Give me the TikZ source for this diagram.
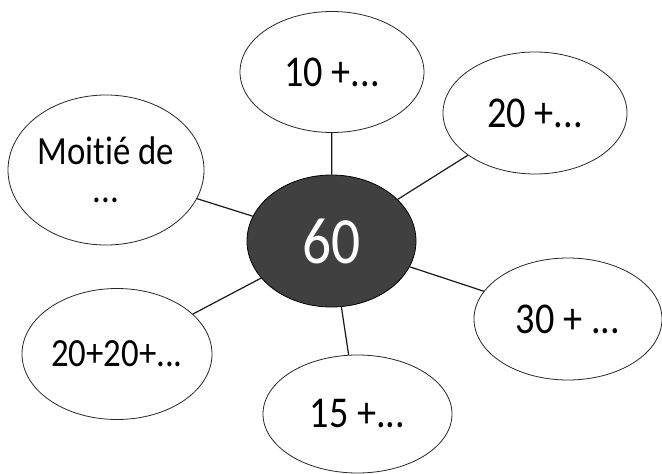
\documentclass[tikz,border=0pt]{standalone}
\usepackage{fontspec}
\setmainfont{Carlito}[Ligatures=NoCommon,FakeStretch=0.87]
\usetikzlibrary{shapes.geometric}
\begin{document}
\begin{tikzpicture}[x=1pt,y=-1pt,
  bubble/.style={ellipse,draw=black!85,line width=0.8pt,fill=white,inner sep=0pt,
    font=\fontsize{44}{44}\selectfont,align=center},
  hub/.style={ellipse,draw=black,line width=0.8pt,fill=black!75,text=white,inner sep=0pt,
    font=\fontsize{66}{66}\selectfont},
  link/.style={draw=black!90,line width=1.2pt}]
\useasboundingbox (0,0) rectangle (662,474);
\node[hub,minimum width=169pt,minimum height=132pt] (c) at (331.5,241) {60};
\node[bubble,minimum width=184pt,minimum height=121pt] (a) at (332,72) {10 +...};
\node[bubble,minimum width=184pt,minimum height=122pt] (b) at (535,113) {20 +...};
\node[bubble,minimum width=196pt,minimum height=150pt,font=\fontsize{40}{38}\selectfont] (m) at (106,170) {Moitié de\\...};
\node[bubble,minimum width=188pt,minimum height=122pt] (d) at (568,319) {30 + ...};
\node[bubble,minimum width=190pt,minimum height=131pt,font=\fontsize{40}{40}\selectfont] (e) at (117,354) {20+20+...};
\node[bubble,minimum width=189pt,minimum height=118pt] (f) at (357.5,414) {15 +...};
\foreach \n in {a,b,m,d,e,f} {\draw[link] (c) -- (\n);}
\end{tikzpicture}
\end{document}
